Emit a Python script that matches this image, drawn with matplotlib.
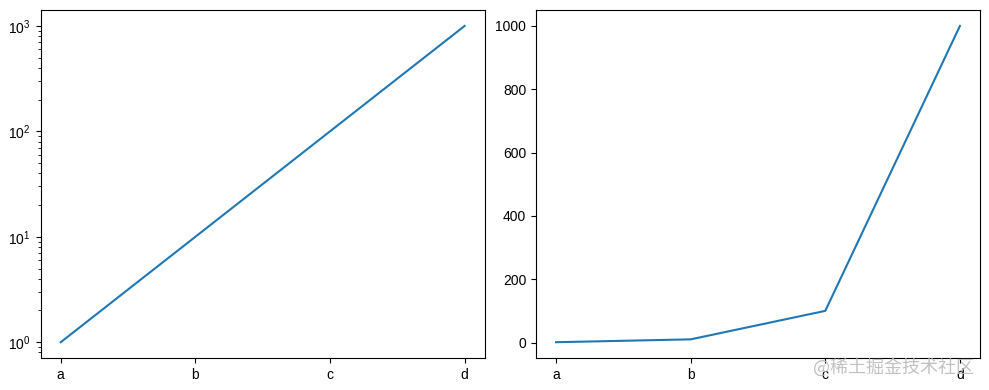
import matplotlib.pyplot as plt

plt.rcParams['font.family'] = ['Liberation Sans', 'Noto Sans CJK SC', 'DejaVu Sans']
plt.rcParams['axes.unicode_minus'] = False

x = ['a', 'b', 'c', 'd']
y = [1, 10, 100, 1000]

fig, (ax1, ax2) = plt.subplots(1, 2, figsize=(9.89, 3.9), dpi=100)
fig.subplots_adjust(left=0.041, right=0.991, top=0.974, bottom=0.082, wspace=0.115)

ax1.plot(x, y)
ax1.set_yscale('log')

ax2.plot(x, y)

# watermark
fig.text(0.985, 0.035, '@稀土掘金技术社区', ha='right', va='bottom', fontsize=13,
         color='#bbbbbb', alpha=0.9, family=['Noto Sans CJK SC', 'DejaVu Sans'])

fig.savefig('out.png', dpi=100)
